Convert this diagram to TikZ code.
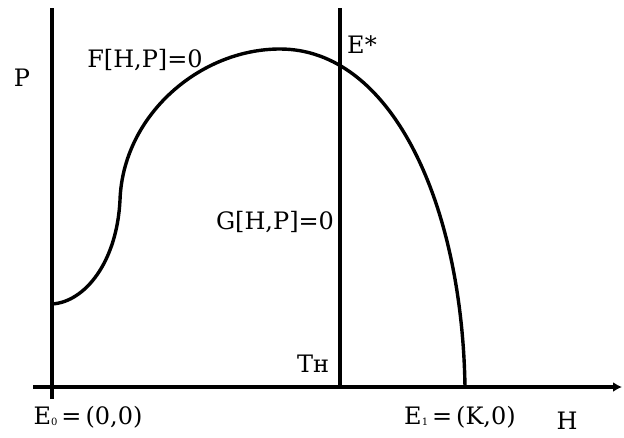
\documentclass[tikz,border=0pt]{standalone}
\usepackage{fontspec}
\newfontfamily\lblfont{DejaVu Serif}
\usetikzlibrary{arrows.meta}
\tikzstyle{lbl}=[font=\lblfont\fontsize{24}{26}\selectfont, inner sep=0pt]
\tikzstyle{ax}=[line width=3.6pt]

\begin{document}
\begin{tikzpicture}[x=1pt, y=-1pt]

        \useasboundingbox (0,0) rectangle (624,437);

        \coordinate (o)  at (52,387);
        \coordinate (hl) at (33,387);
        \coordinate (hr) at (622,387);
        \coordinate (pb) at (52,399);
        \coordinate (pt) at (52,8);
        \coordinate (tb) at (340,387);
        \coordinate (tt) at (340,8);
        \coordinate (c0) at (52,304);
        \coordinate (c1) at (120,200);
        \coordinate (c2) at (280,49);
        \coordinate (c3) at (465,387);

        \draw[ax] (pb) -- (pt);
        \draw[ax, -{Latex[length=9pt, width=10pt]}] (hl) -- (hr);
        \draw[ax] (tb) -- (tt);

        \draw[line width=3.4pt] (c0) .. controls (85,302) and (117,262) .. (c1)
            .. controls (123,115) and (200,49) .. (c2)
            .. controls (390,49) and (462,200) .. (c3);

        \node[lbl] (p)  at (22,78)   {P};
        \node[lbl] (h)  at (567,421) {H};
        \node[lbl] (f)  at (145,60)  {F[H,P]=0};
        \node[lbl] (g)  at (275,222) {G[H,P]=0};
        \node[lbl] (es) at (362,45)  {E*};
        \node[lbl] (t)  at (313,364) {Tн};
        \node[lbl] (e0) at (88,417)  {E\raisebox{-1pt}{\fontsize{10}{12}\selectfont 0}\,=\,(0,0)};
        \node[lbl] (e1) at (460,417) {E\raisebox{-1pt}{\fontsize{10}{12}\selectfont 1}\,=\,(K,0)};

    \end{tikzpicture}
\end{document}
